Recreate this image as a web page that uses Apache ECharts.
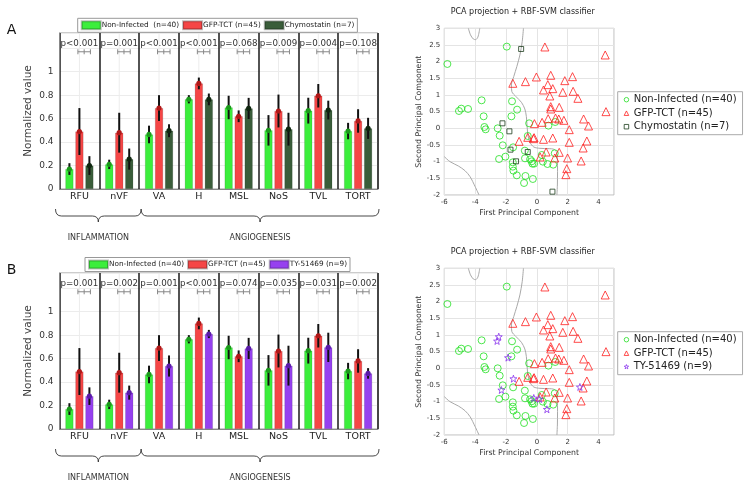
<!DOCTYPE html>
<html>
<head>
<meta charset="utf-8">
<script src="https://cdn.jsdelivr.net/npm/echarts@6/dist/echarts.min.js"></script>
<style>
html, body { margin: 0; padding: 0; background: #fff; }
#main { width: 756px; height: 488px; }
</style>
</head>
<body>
<div id="main"></div>
<script>
// bar panels
const categories = ['RFU', 'nVF', 'VA', 'H', 'MSL', 'NoS', 'TVL', 'TORT']
const nonInfMean = [0.17, 0.21, 0.465, 0.765, 0.695, 0.50, 0.668, 0.494]
const nonInfSd = [0.05, 0.04, 0.075, 0.035, 0.10, 0.13, 0.11, 0.07]
const gfpMean = [0.49, 0.48, 0.69, 0.90, 0.62, 0.665, 0.795, 0.58]
const gfpSd = [0.20, 0.17, 0.11, 0.05, 0.05, 0.14, 0.10, 0.10]
const chymoMean = [0.20, 0.255, 0.497, 0.764, 0.687, 0.51, 0.673, 0.517]
const chymoSd = [0.08, 0.09, 0.055, 0.05, 0.09, 0.14, 0.08, 0.09]
const tyMean = [0.28, 0.31, 0.537, 0.81, 0.687, 0.54, 0.696, 0.474]
const tySd = [0.075, 0.06, 0.09, 0.035, 0.09, 0.17, 0.125, 0.045]
const pValuesA = ['p<0.001', 'p=0.001', 'p<0.001', 'p<0.001', 'p=0.068', 'p=0.009', 'p=0.004', 'p=0.108']
const pValuesB = ['p=0.001', 'p=0.002', 'p=0.001', 'p<0.001', 'p=0.074', 'p=0.035', 'p=0.031', 'p=0.002']
const barYTicks = [0, 0.2, 0.4, 0.6, 0.8, 1]

// PCA panels
const pcaNonInfected = [
  [-5.8, 1.93], [-1.95, 2.45], [-5.05, 0.52], [-4.9, 0.59], [-4.46, 0.58], [-3.58, 0.84],
  [-3.45, 0.36], [-3.4, 0.04], [-3.32, -0.03], [-2.54, 0.0], [-2.41, -0.22], [-2.21, -0.51],
  [-2.45, -0.92], [-2.04, -0.85], [-1.61, 0.81], [-1.65, 0.36], [-1.28, 0.56], [-1.54, -0.57],
  [-1.56, -1.02], [-1.56, -1.15], [-1.52, -1.27], [-1.3, -1.41], [-0.83, -1.64], [-0.74, -1.43],
  [-0.26, -1.52], [-0.78, -0.67], [-0.77, -0.9], [-0.5, 0.15], [-0.59, -0.23], [-0.33, -0.99],
  [-0.29, -1.06], [-0.18, -1.06], [-0.44, -0.93], [0.32, -0.8], [0.39, -1.0], [0.69, -1.07],
  [1.06, -1.09], [0.75, 0.08], [1.16, -0.75], [1.19, 0.19]
]
const pcaGfp = [
  [0.52, 2.44], [4.43, 2.2], [4.48, 0.5], [-1.56, 1.35], [-0.74, 1.4], [-0.03, 1.54],
  [0.9, 1.59], [2.31, 1.55], [1.81, 1.43], [0.71, 1.31], [0.43, 1.15], [1.03, 1.19],
  [0.84, 0.97], [1.68, 1.08], [2.35, 1.11], [2.66, 0.9], [0.9, 0.65], [0.9, 0.58],
  [1.45, 0.63], [0.73, 0.29], [1.21, 0.31], [1.42, 0.28], [1.75, 0.24], [0.34, 0.18],
  [-0.16, 0.14], [3.03, 0.28], [3.35, 0.07], [2.1, -0.04], [3.24, -0.38], [2.1, -0.42],
  [3.0, -0.59], [2.87, -0.98], [1.99, -0.89], [1.94, -1.21], [1.88, -1.39], [1.45, -0.72],
  [1.16, -0.89], [1.03, -0.29], [0.43, -0.33], [0.6, -0.71], [0.21, -0.86], [-0.18, -0.28],
  [-0.22, -0.31], [-0.59, -0.27], [-1.15, -0.39]
]
const pcaChymo = [[-1.02, 2.38], [-2.23, 0.15], [-1.78, -0.09], [-1.71, -0.64], [-0.59, -0.71], [-1.35, -0.99], [1.01, -1.9]]
const pcaTy = [[-2.47, 0.95], [-2.58, 0.82], [-1.87, 0.32], [-1.52, -0.31], [-2.3, -0.65], [-0.2, -0.89], [0.17, -0.92], [0.65, -1.23], [2.79, -0.56]]
const boundaryMain = [
  [-0.87, 3.0], [-0.95, 2.6], [-1.1, 2.2], [-1.3, 1.85], [-1.5, 1.55], [-1.65, 1.3], [-1.62, 1.1],
  [-1.35, 0.95], [-1.0, 0.78], [-0.78, 0.58], [-0.68, 0.35], [-0.64, 0.1], [-0.58, -0.2],
  [-0.45, -0.42], [-0.2, -0.56], [0.2, -0.6], [0.8, -0.61], [1.12, -0.63], [1.28, -0.72],
  [1.33, -0.95], [1.34, -1.3], [1.33, -1.7], [1.3, -2.0]
]
const boundaryTopLeft = [[-4.44, 3.0], [-4.3, 2.8], [-4.12, 2.68], [-3.97, 2.66], [-3.82, 2.74], [-3.7, 3.0]]
const boundaryBottomLeft = [[-6.0, -0.85], [-5.63, -1.0], [-5.09, -1.13], [-4.66, -1.27], [-4.33, -1.45], [-4.0, -1.75], [-3.75, -2.0]]
const pcaXTicks = [-6, -4, -2, 0, 2, 4]

const labels = {
  aNon: 'Non-Infected  (n=40)', aGfp: 'GFP-TCT (n=45)', aChy: 'Chymostatin (n=7)',
  bNon: 'Non-Infected (n=40)', bGfp: 'GFP-TCT (n=45)', bTy: 'TY-51469 (n=9)',
  sNonA: 'Non-Infected (n=40)', sGfpA: 'GFP-TCT (n=45)', sChy: 'Chymostatin (n=7)',
  sNonB: 'Non-Infected (n=40)', sGfpB: 'GFP-TCT (n=45)', sTy: 'TY-51469 (n=9)'
}

const FONT = 'DejaVu Sans'
const colors = { non: '#3cee3c', gfp: '#f54646', chy: '#3a5d3a', ty: '#9641ef' }
const dots = { non: '#1a9a1a', gfp: '#b01818', chy: '#0f260f', ty: '#5a1aa8' }
const marks = { non: '#22e022', gfp: '#ff1f1f', chy: '#1d3d1d', ty: '#8a35ee' }
const star = 'path://M0,-10L2.35,-3.24L9.51,-3.09L3.8,1.24L5.88,8.09L0,4L-5.88,8.09L-3.8,1.24L-9.51,-3.09L-2.35,-3.24Z'

const barLeft = 59.5
const barWidthPx = 318.5
const barTops = [33, 273]
const barH = 156
const yMax = 1.33
const pcaLeft = 444.3
const pcaTops = [28.3, 268.3]

function barAxes(gi) {
  return {
    x: {
      type: 'category', gridIndex: gi, data: categories,
      axisLine: { lineStyle: { color: '#888' } },
      axisTick: { show: false },
      axisLabel: { fontSize: 9.5, color: '#222', margin: 3, fontFamily: FONT },
      splitLine: { show: true, lineStyle: { color: '#1a1a1a', width: 1.5 } }
    },
    y: {
      type: 'value', gridIndex: gi, min: 0, max: yMax, interval: 0.2,
      name: 'Normalized value', nameLocation: 'middle', nameGap: 26,
      nameTextStyle: { fontSize: 10.5, color: '#444', fontFamily: FONT },
      axisLine: { show: true, lineStyle: { color: '#888' } },
      axisTick: { show: false },
      axisLabel: {
        fontSize: 9, color: '#333', fontFamily: FONT, margin: 6,
        formatter: v => barYTicks.some(t => Math.abs(t - v) < 1e-6) ? String(+v.toFixed(1)) : ''
      },
      splitLine: { lineStyle: { color: '#ececec' } }
    }
  }
}

function pcaAxes(gi) {
  return {
    x: {
      type: 'value', gridIndex: gi, min: -6, max: 5, interval: 2,
      name: 'First Principal Component', nameLocation: 'middle', nameGap: 14,
      nameTextStyle: { fontSize: 7.8, color: '#333', fontFamily: FONT },
      axisLine: { show: false }, axisTick: { show: false },
      axisLabel: {
        fontSize: 7, color: '#333', margin: 4, fontFamily: FONT,
        formatter: v => pcaXTicks.indexOf(v) >= 0 ? String(v) : ''
      },
      splitLine: { lineStyle: { color: '#e4e4e4' } }
    },
    y: {
      type: 'value', gridIndex: gi, min: -2, max: 3, interval: 0.5,
      name: 'Second Principal Component', nameLocation: 'middle', nameGap: 20,
      nameTextStyle: { fontSize: 7.8, color: '#333', fontFamily: FONT },
      axisLine: { show: false }, axisTick: { show: false },
      axisLabel: { fontSize: 7, color: '#333', margin: 4, fontFamily: FONT },
      splitLine: { lineStyle: { color: '#e4e4e4' } }
    }
  }
}

const axA = barAxes(0), axB = barAxes(2), pxA = pcaAxes(1), pxB = pcaAxes(3)

function barSeries(name, means, color, axis) {
  return {
    name, type: 'bar', xAxisIndex: axis, yAxisIndex: axis, data: means,
    barWidth: 8, barGap: '25%', z: 2,
    itemStyle: { color, borderColor: 'rgba(0,0,0,0.25)', borderWidth: 0.5 }
  }
}

function errSeries(means, sds, offset, dot, axis) {
  return {
    type: 'custom', xAxisIndex: axis, yAxisIndex: axis, z: 4, silent: true,
    data: means.map((m, i) => [i, m, sds[i]]),
    renderItem: (params, api) => {
      const i = api.value(0), m = api.value(1), s = api.value(2)
      const c = api.coord([i, m])
      const t = api.coord([i, m + s])
      const b = api.coord([i, m - s])
      const x = c[0] + offset
      return {
        type: 'group', children: [
          { type: 'line', shape: { x1: x, y1: t[1], x2: x, y2: b[1] }, style: { stroke: '#111', lineWidth: 2 } },
          { type: 'circle', shape: { cx: x, cy: c[1], r: 2.6 }, style: { fill: dot } }
        ]
      }
    }
  }
}

function gridLineSeries(axis) {
  return {
    type: 'custom', xAxisIndex: axis, yAxisIndex: axis, z: 1, silent: true,
    data: categories.map((c, i) => [i, 0]),
    renderItem: (params, api) => {
      const a = api.coord([api.value(0), 0])
      const b = api.coord([api.value(0), yMax])
      return { type: 'line', shape: { x1: a[0], y1: a[1], x2: b[0], y2: b[1] }, style: { stroke: '#ececec', lineWidth: 1 } }
    }
  }
}

function pSeries(pvals, axis) {
  return {
    type: 'custom', xAxisIndex: axis, yAxisIndex: axis, z: 4, silent: true,
    data: pvals.map((p, i) => [i, 1.24]),
    renderItem: (params, api) => {
      const i = api.value(0)
      const tp = api.coord([i, 1.24])
      const br = api.coord([i, 1.17])
      const x0 = br[0] - 1.5, x1 = br[0] + 11, xm = (x0 + x1) / 2, y = br[1]
      const st = { stroke: '#888', lineWidth: 1 }
      return {
        type: 'group', children: [
          { type: 'text', x: tp[0], y: tp[1], style: { text: pvals[params.dataIndex], font: '8.7px "DejaVu Sans"', fill: '#333', align: 'center', verticalAlign: 'middle', textAlign: 'center', textVerticalAlign: 'middle' } },
          { type: 'line', shape: { x1: x0, y1: y, x2: x1, y2: y }, style: st },
          { type: 'line', shape: { x1: x0, y1: y - 2.5, x2: x0, y2: y + 2.5 }, style: st },
          { type: 'line', shape: { x1: xm, y1: y - 2.5, x2: xm, y2: y + 2.5 }, style: st },
          { type: 'line', shape: { x1: x1, y1: y - 2.5, x2: x1, y2: y + 2.5 }, style: st }
        ]
      }
    }
  }
}

function hollow(color) {
  return { color: 'rgba(255,255,255,0)', borderColor: color, borderWidth: 1 }
}

function scatterSeries(name, data, symbol, size, color, axis) {
  return {
    name, type: 'scatter', xAxisIndex: axis, yAxisIndex: axis, data, symbol, symbolSize: size, z: 3,
    itemStyle: hollow(color),
    emphasis: { disabled: true }
  }
}

function boundarySeries(data, axis) {
  return {
    type: 'line', xAxisIndex: axis, yAxisIndex: axis, data, showSymbol: false, smooth: 0.3, z: 2,
    silent: true, lineStyle: { color: '#a8a8a8', width: 1 }
  }
}

function brace(x0, x1, xt, y0, y1, y2) {
  const r = 6
  const parts = [
    { type: 'bezierCurve', shape: { x1: x0, y1: y0, cpx1: x0, cpy1: y1, x2: x0 + r, y2: y1 } },
    { type: 'line', shape: { x1: x0 + r, y1: y1, x2: xt - r, y2: y1 } },
    { type: 'bezierCurve', shape: { x1: xt - r, y1: y1, cpx1: xt, cpy1: y1, x2: xt, y2: y2 } },
    { type: 'bezierCurve', shape: { x1: xt, y1: y2, cpx1: xt, cpy1: y1, x2: xt + r, y2: y1 } },
    { type: 'line', shape: { x1: xt + r, y1: y1, x2: x1 - r, y2: y1 } },
    { type: 'bezierCurve', shape: { x1: x1 - r, y1: y1, cpx1: x1, cpy1: y1, x2: x1, y2: y0 } }
  ]
  return parts.map(p => Object.assign(p, { silent: true, style: { stroke: '#333', fill: null, lineWidth: 0.9 } }))
}

function txt(text, x, y, size, color) {
  return {
    type: 'text', x, y, silent: true,
    style: { text, font: size + 'px "DejaVu Sans"', fill: color, align: 'center', verticalAlign: 'middle', textAlign: 'center', textVerticalAlign: 'middle' }
  }
}

const catW = barWidthPx / categories.length
const split2 = barLeft + 2 * catW
const graphics = []
barTops.forEach((top, k) => {
  const yb = top + barH + 20
  graphics.push(...brace(barLeft - 4, split2 + 2, (barLeft - 4 + split2 + 2) / 2, yb, yb + 7, yb + 13))
  graphics.push(...brace(split2 + 2, barLeft + barWidthPx + 1, (split2 + barLeft + barWidthPx + 3) / 2, yb, yb + 7, yb + 13))
  graphics.push(txt('INFLAMMATION', (barLeft - 4 + split2 + 2) / 2, yb + 28.5, 8, '#333'))
  graphics.push(txt('ANGIOGENESIS', (split2 + barLeft + barWidthPx + 3) / 2, yb + 28.5, 8, '#333'))
  graphics.push(txt(k === 0 ? 'A' : 'B', 11.5, top - 2.5, 14, '#111'))
  graphics.push(txt('PCA projection + RBF-SVM classifier', 522.7, pcaTops[k] - 16, 8, '#222'))
})

const barLegend = (names, top, left) => ({
  data: names, top, left, orient: 'horizontal', itemWidth: 19, itemHeight: 8, itemGap: 3,
  padding: [2, 3], borderColor: '#999', borderWidth: 1, backgroundColor: '#fff',
  selectedMode: false, icon: 'rect',
  formatter: n => labels[n],
  textStyle: { fontSize: 7.3, color: '#222', fontFamily: FONT, padding: [0, 0, 0, -4] }
})
const pcaLegend = (items, top) => ({
  data: items.map(it => ({ name: it[0], icon: it[1], itemStyle: hollow(it[2]) })),
  top, left: 617.7, orient: 'vertical', itemWidth: 4.5, itemHeight: 4.5, itemGap: 1.5,
  padding: [2, 6], borderColor: '#aaa', borderWidth: 1, backgroundColor: '#fff',
  selectedMode: false,
  formatter: n => labels[n],
  textStyle: { fontSize: 10, color: '#222', fontFamily: FONT, lineHeight: 12 }
})

const option = {
  animation: false,
  textStyle: { fontFamily: FONT },
  grid: [
    { left: barLeft, top: barTops[0], width: barWidthPx, height: barH, show: true, borderColor: '#999', borderWidth: 1 },
    { left: pcaLeft, top: pcaTops[0], width: 169.7, height: 166.7, show: true, borderColor: '#bbb', borderWidth: 1 },
    { left: barLeft, top: barTops[1], width: barWidthPx, height: barH, show: true, borderColor: '#999', borderWidth: 1 },
    { left: pcaLeft, top: pcaTops[1], width: 169.7, height: 166.7, show: true, borderColor: '#bbb', borderWidth: 1 }
  ],
  xAxis: [axA.x, pxA.x, axB.x, pxB.x],
  yAxis: [axA.y, pxA.y, axB.y, pxB.y],
  legend: [
    barLegend(['aNon', 'aGfp', 'aChy'], 18.3, 77.7),
    pcaLegend([['sNonA', 'circle', marks.non], ['sGfpA', 'triangle', marks.gfp], ['sChy', 'rect', marks.chy]], 91.7),
    barLegend(['bNon', 'bGfp', 'bTy'], 257.5, 85),
    pcaLegend([['sNonB', 'circle', marks.non], ['sGfpB', 'triangle', marks.gfp], ['sTy', star, marks.ty]], 331.7)
  ],
  graphic: graphics,
  series: [
    gridLineSeries(0),
    barSeries('aNon', nonInfMean, colors.non, 0),
    barSeries('aGfp', gfpMean, colors.gfp, 0),
    barSeries('aChy', chymoMean, colors.chy, 0),
    errSeries(nonInfMean, nonInfSd, -10, dots.non, 0),
    errSeries(gfpMean, gfpSd, 0, dots.gfp, 0),
    errSeries(chymoMean, chymoSd, 10, dots.chy, 0),
    pSeries(pValuesA, 0),
    gridLineSeries(2),
    barSeries('bNon', nonInfMean, colors.non, 2),
    barSeries('bGfp', gfpMean, colors.gfp, 2),
    barSeries('bTy', tyMean, colors.ty, 2),
    errSeries(nonInfMean, nonInfSd, -10, dots.non, 2),
    errSeries(gfpMean, gfpSd, 0, dots.gfp, 2),
    errSeries(tyMean, tySd, 10, dots.ty, 2),
    pSeries(pValuesB, 2),
    boundarySeries(boundaryMain, 1),
    boundarySeries(boundaryTopLeft, 1),
    boundarySeries(boundaryBottomLeft, 1),
    scatterSeries('sNonA', pcaNonInfected, 'circle', 7, marks.non, 1),
    scatterSeries('sGfpA', pcaGfp, 'triangle', 8, marks.gfp, 1),
    scatterSeries('sChy', pcaChymo, 'rect', 5, marks.chy, 1),
    boundarySeries(boundaryMain, 3),
    boundarySeries(boundaryTopLeft, 3),
    boundarySeries(boundaryBottomLeft, 3),
    scatterSeries('sNonB', pcaNonInfected, 'circle', 7, marks.non, 3),
    scatterSeries('sGfpB', pcaGfp, 'triangle', 8, marks.gfp, 3),
    scatterSeries('sTy', pcaTy, star, 7, marks.ty, 3)
  ]
}

const chart = echarts.init(document.getElementById('main'))
chart.setOption(option)
</script>
</body>
</html>
